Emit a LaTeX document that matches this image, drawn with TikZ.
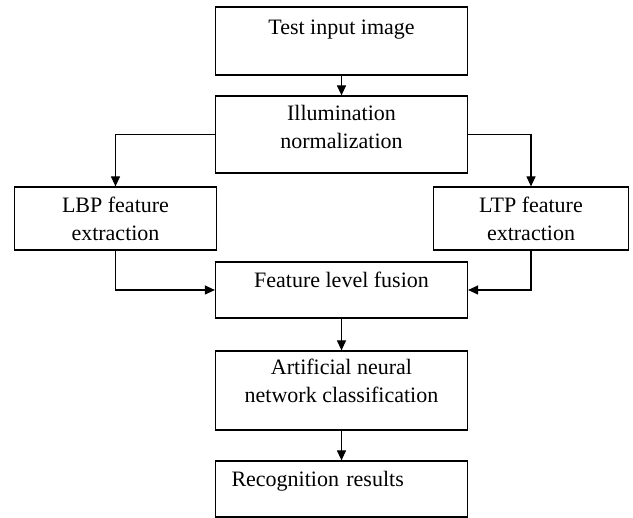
\documentclass[tikz,border=0pt]{standalone}
\usepackage{fontspec}
\setmainfont{Liberation Serif}
\usepackage{tikz}
\usetikzlibrary{shapes.geometric, arrows, arrows.meta}
\tikzstyle{process} = [rectangle, minimum width=252pt, minimum height=56pt, align=center, draw=black, line width=1.2pt, font=\fontsize{22}{28}\selectfont]
\tikzstyle{arrow} = [line width=1.2pt,->,>={Triangle[length=10pt,width=9pt]}]

\begin{document}
\begin{tikzpicture}[node distance=1.5cm]
            \useasboundingbox (0pt,0pt) rectangle (633pt,-518pt);
            \node (test) [process, minimum height=68pt, text height=15pt, text depth=27pt] at (341.5pt,-41pt) {Test input image};
            \node (norm) [process, minimum height=77pt, text height=43pt, text depth=15pt, node distance=93.5pt, below of=test] {Illumination\\normalization};
            \node (lbp) [process, minimum width=202pt, minimum height=63pt, node distance=84pt, below of=norm, xshift=-226pt] {LBP feature\\extraction};
            \node (ltp) [process, minimum width=195pt, minimum height=63pt, node distance=84pt, below of=norm, xshift=189.5pt] {LTP feature\\extraction};
            \node (fusion) [process, text height=15pt, text depth=19pt, node distance=155.5pt, below of=norm] {Feature level fusion};
            \node (ann) [process, minimum height=79pt, text height=43pt, text depth=19pt, node distance=100.5pt, below of=fusion] {Artificial neural\\network classification};
            \node (result) [process, align=left, text width=220pt, inner xsep=16pt, text height=15pt, text depth=19pt, node distance=98.5pt, below of=ann] {Recognition results};

            \draw [arrow] (test) -- (norm);
            \draw [arrow] (norm.west) -| (lbp.north);
            \draw [arrow] (norm.east) -| (ltp.north);
            \draw [arrow] (lbp.south) |- (fusion.west);
            \draw [arrow] (ltp.south) |- (fusion.east);
            \draw [arrow] (fusion) -- (ann);
            \draw [arrow] (ann) -- (result);
        \end{tikzpicture}
\end{document}
